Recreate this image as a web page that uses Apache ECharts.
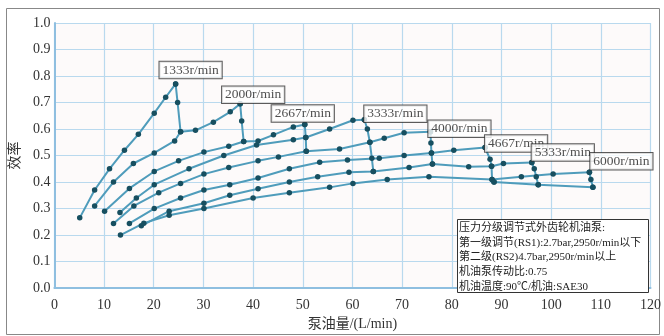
<!DOCTYPE html>
<html><head><meta charset="utf-8">
<script src="https://cdn.jsdelivr.net/npm/echarts@6/dist/echarts.min.js"></script>
<style>html,body{margin:0;padding:0;background:#fff}#c{width:664px;height:336px}</style>
</head><body><div id="c"></div>
<script>
// ---- data ----
const xTicks = [0,10,20,30,40,50,60,70,80,90,100,110,120];
const yTicks = [0.0,0.1,0.2,0.3,0.4,0.5,0.6,0.7,0.8,0.9,1.0];
const speedLabels = ['1333r/min','2000r/min','2667r/min','3333r/min','4000r/min','4667r/min','5333r/min','6000r/min'];

const curve1 = [[5.1,0.265],[8.1,0.37],[11.1,0.45],[14.1,0.52],[16.9,0.58],[20.1,0.66],[22.4,0.72],[24.4,0.77]];
const curve2 = [[8.1,0.31],[11.9,0.40],[15.9,0.47],[20.1,0.51],[24.2,0.555],[25.4,0.59],[28.4,0.595],[32,0.626],[35.4,0.665],[37.4,0.695]];
const curve3 = [[10.1,0.29],[15.1,0.376],[20.1,0.44],[25,0.48],[30.1,0.513],[35.1,0.535],[38.1,0.553],[41,0.555],[44.1,0.578],[48.1,0.608],[50.4,0.617]];
const curve4 = [[13.2,0.285],[16.5,0.34],[20.1,0.39],[27.1,0.45],[34.1,0.50],[40.7,0.54],[48.1,0.56],[50.6,0.568],[55.4,0.60],[60.1,0.633],[62.4,0.635]];
const curve5 = [[11.9,0.244],[16,0.31],[21,0.36],[25.4,0.395],[30.1,0.43],[35.1,0.455],[41,0.48],[45.1,0.495],[50.7,0.516],[57.4,0.525],[63.5,0.55],[66.4,0.565],[70.4,0.586],[75.7,0.59]];
const curve6 = [[15.1,0.244],[20.1,0.30],[25.4,0.34],[30.1,0.37],[35.3,0.39],[41,0.415],[47.3,0.45],[53.4,0.475],[59,0.483],[65.4,0.49],[70.4,0.50],[75.9,0.51],[80.4,0.52],[86.7,0.53]];
const curve7 = [[17.5,0.235],[23.1,0.29],[30.1,0.32],[35.3,0.35],[41,0.375],[47.3,0.40],[53,0.42],[59.3,0.437],[64.2,0.44],[71.4,0.455],[76.1,0.468],[83.4,0.458],[88,0.46],[90.4,0.47],[96.1,0.474]];
const curve8 = [[13.3,0.20],[18,0.245],[23.1,0.275],[30.1,0.30],[40,0.34],[47.3,0.36],[55.4,0.38],[60.1,0.395],[67,0.41],[75.4,0.42],[88.1,0.41],[94,0.42],[100.4,0.43],[107.7,0.437]];
const curve9 = [[88.5,0.40],[97.4,0.39],[108.4,0.38]];

const v1333 = [[24.4,0.77],[24.8,0.70],[25.4,0.59]];
const v2000 = [[37.4,0.695],[37.7,0.63],[38.1,0.553]];
const v2667 = [[50.4,0.617],[50.6,0.568],[50.7,0.516]];
const v3333 = [[62.4,0.635],[63.0,0.60],[63.5,0.55],[63.9,0.49],[64.2,0.44]];
const v4000 = [[75.7,0.59],[75.8,0.547],[75.9,0.51],[76.1,0.468]];
const v4667 = [[86.7,0.53],[87.7,0.486],[88,0.46],[88.1,0.41],[88.5,0.40]];
const v5333 = [[96.1,0.474],[96.6,0.45],[97,0.42],[97.4,0.39]];
const v6000 = [[107.7,0.437],[108,0.41],[108.4,0.38]];

const noteLines = [
  '压力分级调节式外齿轮机油泵:',
  '第一级调节(RS1):2.7bar,2950r/min以下',
  '第二级(RS2)4.7bar,2950r/min以上',
  '机油泵传动比:0.75',
  '机油温度:90℃/机油:SAE30'
];

// ---- styling ----
const curves = [curve1,curve2,curve3,curve4,curve5,curve6,curve7,curve8,curve9];
const verticals = [v1333,v2000,v2667,v3333,v4000,v4667,v5333,v6000];
const labelOffsets = [[15,-14],[13,-9],[-2,-11],[31,-6],[29,-3],[31,-4],[31,-10],[32,-11]];
const LINE = '#4f9cbb', DOT = '#174f60';
const SERIF = "'Liberation Serif','Noto Sans CJK SC',serif";

const series = [];
curves.concat(verticals).forEach(d => {
  series.push({
    type:'line', data:d, symbol:'circle', symbolSize:5.5, showSymbol:true,
    lineStyle:{color:LINE, width:2}, itemStyle:{color:DOT}, silent:true, z:3
  });
});
series.push({
  type:'scatter', symbolSize:0, z:10,
  data: verticals.map((v,i) => ({value:v[0], name:speedLabels[i],
    label:{offset:labelOffsets[i]}})),
  label:{show:true, position:'inside', formatter:p=>p.name,
    color:'#222', fontFamily:SERIF, fontSize:13.5,
    backgroundColor:'#fff', borderColor:'#333', borderWidth:1, padding:[2,3,1,3]}
});

const chart = echarts.init(document.getElementById('c'), null, {renderer:'canvas'});
chart.setOption({
  animation:false,
  backgroundColor:'#fff',
  grid:{left:53, right:11, top:23, bottom:41, show:true, backgroundColor:'#fdfafa', borderWidth:0},
  xAxis:{type:'value', min:xTicks[0], max:xTicks[xTicks.length-1], interval:10,
    name:'泵油量/(L/min)', nameLocation:'middle', nameGap:27,
    nameTextStyle:{fontFamily:SERIF, fontSize:14, color:'#333'},
    axisLine:{show:true, lineStyle:{color:'#8fbfe0', width:2}},
    axisTick:{show:false},
    axisLabel:{fontFamily:SERIF, fontSize:14, color:'#333', margin:10},
    splitLine:{show:true, lineStyle:{color:'#b9d9ee', width:1.2}}},
  yAxis:{type:'value', min:yTicks[0], max:yTicks[yTicks.length-1], interval:0.1,
    name:'效率', nameLocation:'middle', nameGap:31, nameRotate:90,
    nameTextStyle:{fontFamily:SERIF, fontSize:14, color:'#333'},
    axisLine:{show:true, lineStyle:{color:'#8fbfe0', width:2}},
    axisTick:{show:false},
    axisLabel:{fontFamily:SERIF, fontSize:14, color:'#333', margin:4, formatter:v=>v.toFixed(1)},
    splitLine:{show:true, lineStyle:{color:'#b9d9ee', width:1.2}}},
  series:series,
  graphic:[
    {type:'rect', shape:{x:6.5, y:8.5, width:653, height:326}, style:{fill:'none', stroke:'#888', lineWidth:1}, silent:true, z:0},
    {type:'rect', shape:{x:457.5, y:219.5, width:191, height:73}, style:{fill:'#fff', stroke:'#333', lineWidth:1}, z:20},
    {type:'text', left:459, top:221, z:21,
      style:{text:noteLines.join('\n'), font:"11px 'Liberation Serif','Noto Sans CJK SC'", fill:'#222', lineHeight:14.6}}
  ]
});
</script></body></html>
